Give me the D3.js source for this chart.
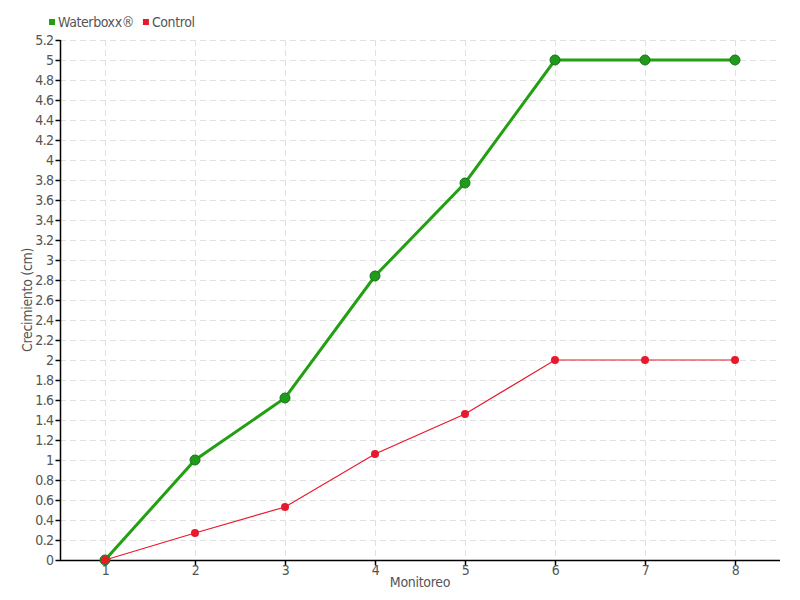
<!DOCTYPE html>
<html><head><meta charset="utf-8">
<script src="https://cdn.jsdelivr.net/npm/d3@7"></script>
<style>body{margin:0;background:#fff}svg{display:block}text{font-family:"DejaVu Sans Condensed","DejaVu Sans",sans-serif}</style>
</head><body><svg id="c" width="800" height="600"></svg>
<script>
const categories = [1,2,3,4,5,6,7,8];
const waterboxx = [0,1,1.62,2.84,3.77,5,5,5];
const control = [0,0.27,0.53,1.06,1.46,2,2,2];
const yTicks = [0,0.2,0.4,0.6,0.8,1,1.2,1.4,1.6,1.8,2,2.2,2.4,2.6,2.8,3,3.2,3.4,3.6,3.8,4,4.2,4.4,4.6,4.8,5,5.2];
const seriesNames = ["Waterboxx®","Control"];
const colors = ["#22a012","#e8192c"];

const svg = d3.select("#c");
const L=60,R=780,T=40,B=560;
const x = d3.scalePoint().domain(categories).range([L,R]).padding(0.5);
const y = d3.scaleLinear().domain([0,5.2]).range([B,T]);

// grid
svg.append("g").selectAll("line").data(yTicks.slice(1)).join("line")
 .attr("x1",L).attr("x2",R).attr("y1",d=>y(d)+0.5).attr("y2",d=>y(d)+0.5)
 .attr("stroke","#e0e0e0").attr("stroke-dasharray","6,4");
svg.append("g").selectAll("line").data(categories).join("line")
 .attr("x1",d=>x(d)+0.5).attr("x2",d=>x(d)+0.5).attr("y1",T).attr("y2",B)
 .attr("stroke","#e0e0e0").attr("stroke-dasharray","6,4");

const yAxis = svg.append("g").attr("transform",`translate(${L+0.5},0)`)
 .call(d3.axisLeft(y).tickValues(yTicks).tickSize(5).tickPadding(2).tickFormat(d=>String(+d.toFixed(1))));
const xAxis = svg.append("g").attr("transform",`translate(0,${B+0.5})`)
 .call(d3.axisBottom(x).tickSize(5).tickPadding(0));
xAxis.select(".domain").attr("d",`M${L},0H${R}`);
yAxis.select(".domain").attr("d",`M0,${B}V${T}`);
[xAxis,yAxis].forEach(a=>{
  a.selectAll(".domain,line").attr("stroke","#000").attr("stroke-width",1.5);
  a.selectAll("text").attr("fill","#555").attr("font-size",14).attr("letter-spacing","-0.6")
   .attr("font-family","'DejaVu Sans Condensed','DejaVu Sans',sans-serif");
});

svg.append("text").attr("x",420).attr("y",587).attr("text-anchor","middle")
 .attr("fill","#555").attr("font-size",14).attr("letter-spacing","-0.3").text("Monitoreo");
svg.append("text").attr("transform","translate(32,300) rotate(-90)").attr("text-anchor","middle")
 .attr("fill","#555").attr("font-size",14).attr("letter-spacing","-0.3").text("Crecimiento (cm)");

const line = d3.line().x((d,i)=>x(categories[i])).y(d=>y(d));
// control
svg.append("path").datum(control).attr("d",line).attr("fill","none").attr("stroke",colors[1]).attr("stroke-width",1.2);
svg.append("g").selectAll("circle").data(control).join("circle")
 .attr("cx",(d,i)=>x(categories[i])).attr("cy",d=>y(d)).attr("r",4).attr("fill",colors[1]);
// waterboxx
svg.append("path").datum(waterboxx).attr("d",line).attr("fill","none").attr("stroke",colors[0]).attr("stroke-width",3);
svg.append("g").selectAll("circle").data(waterboxx).join("circle")
 .attr("cx",(d,i)=>x(categories[i])).attr("cy",d=>y(d)).attr("r",5).attr("fill","#1f9a1a").attr("stroke","#17751a").attr("stroke-width",1);
// first control point drawn on top
svg.append("circle").attr("cx",x(categories[0])).attr("cy",y(control[0])).attr("r",4).attr("fill",colors[1]);

// legend
const lg = svg.append("g");
let lx = 49;
seriesNames.forEach((n,i)=>{
  lg.append("rect").attr("x",lx).attr("y",19).attr("width",6).attr("height",6).attr("fill",colors[i]);
  const t = lg.append("text").attr("x",lx+9).attr("y",27).attr("fill","#555").attr("font-size",14).attr("letter-spacing","-0.4").text(n);
  lx += 9 + t.node().getComputedTextLength() + 9;
});
</script></body></html>
